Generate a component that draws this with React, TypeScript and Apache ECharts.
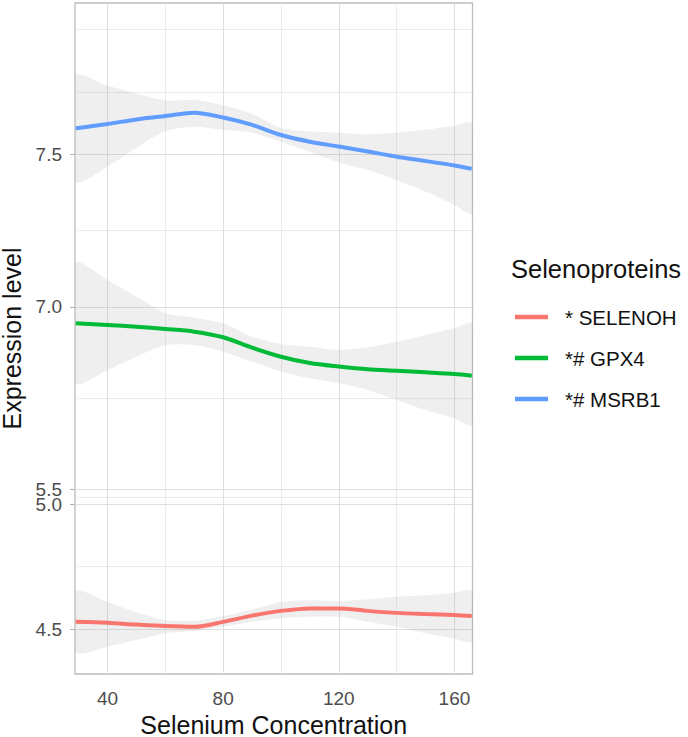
import React, { useEffect, useRef } from "react";
import * as echarts from "echarts";

// ---- data ----
const X_VALUES = [29, 40, 50, 60, 70, 80, 90, 100, 110, 120, 130, 140, 150, 160, 166];

const SELENOH_FIT = [4.529, 4.525, 4.518, 4.512, 4.509, 4.529, 4.554, 4.573, 4.583, 4.583, 4.573, 4.565, 4.56, 4.556, 4.552];
const SELENOH_UPPER = [4.652, 4.609, 4.568, 4.536, 4.533, 4.552, 4.579, 4.609, 4.616, 4.613, 4.62, 4.63, 4.636, 4.646, 4.652];
const SELENOH_LOWER = [4.407, 4.429, 4.456, 4.483, 4.492, 4.509, 4.529, 4.543, 4.549, 4.549, 4.529, 4.509, 4.483, 4.462, 4.449];

const GPX4_FIT = [6.866, 6.852, 6.838, 6.819, 6.797, 6.751, 6.665, 6.591, 6.539, 6.51, 6.487, 6.476, 6.463, 6.449, 6.435];
const GPX4_UPPER = [7.143, 7.088, 7.034, 6.948, 6.912, 6.866, 6.756, 6.696, 6.673, 6.646, 6.668, 6.714, 6.77, 6.825, 6.866];
const GPX4_LOWER = [6.372, 6.482, 6.591, 6.687, 6.687, 6.632, 6.55, 6.468, 6.413, 6.372, 6.317, 6.235, 6.152, 6.084, 6.029];

const MSRB1_FIT = [7.585, 7.599, 7.614, 7.625, 7.636, 7.62, 7.596, 7.563, 7.541, 7.525, 7.509, 7.492, 7.478, 7.463, 7.452];
const MSRB1_UPPER = [7.758, 7.724, 7.699, 7.676, 7.678, 7.66, 7.632, 7.586, 7.575, 7.57, 7.565, 7.571, 7.58, 7.593, 7.602];
const MSRB1_LOWER = [7.41, 7.459, 7.521, 7.576, 7.59, 7.58, 7.57, 7.541, 7.508, 7.473, 7.449, 7.416, 7.378, 7.334, 7.307];

const SERIES_NAMES = ["* SELENOH", "*# GPX4", "*# MSRB1"];
const LEGEND_TITLE = "Selenoproteins";
const X_TITLE = "Selenium Concentration";
const Y_TITLE = "Expression level";

const X_MAJOR = [40, 80, 120, 160];
const X_TICK_LABELS = ["40", "80", "120", "160"];
const Y_MAJOR = [4.5, 5.0, 5.5, 7.0, 7.5];
const Y_TICK_LABELS = ["4.5", "5.0", "5.5", "7.0", "7.5"];
const X_RANGE = [28.75, 166.25];
const Y_RANGE = [4.32, 7.995];

// piecewise (squished) y scale, as in the reference's broken axis
const TRANS_KNOTS_VALUE = [4.5, 5.0, 5.5, 7.0, 7.5];
const TRANS_KNOTS_POS = [0, 124.7, 139.7, 322, 474.7];

function T(v: number): number {
  const kv = TRANS_KNOTS_VALUE;
  const kp = TRANS_KNOTS_POS;
  const n = kv.length;
  if (v <= kv[0]) {
    const s = (kp[1] - kp[0]) / (kv[1] - kv[0]);
    return kp[0] + (v - kv[0]) * s;
  }
  if (v >= kv[n - 1]) {
    const s = (kp[n - 1] - kp[n - 2]) / (kv[n - 1] - kv[n - 2]);
    return kp[n - 1] + (v - kv[n - 1]) * s;
  }
  for (let i = 0; i < n - 1; i++) {
    if (v >= kv[i] && v <= kv[i + 1]) {
      return kp[i] + ((v - kv[i]) / (kv[i + 1] - kv[i])) * (kp[i + 1] - kp[i]);
    }
  }
  return 0;
}

// ggplot-like regular minor breaks (computed in transformed space)
function minorBreaks(b: number[], lim: number[]): number[] {
  const bd = b[1] - b[0];
  let ext = [...b];
  if (lim[0] < ext[0]) ext = [ext[0] - bd, ...ext];
  if (lim[1] > ext[ext.length - 1]) ext = [...ext, ext[ext.length - 1] + bd];
  const out: number[] = [];
  for (let i = 0; i < ext.length - 1; i++) {
    out.push(ext[i], (ext[i] + ext[i + 1]) / 2);
  }
  out.push(ext[ext.length - 1]);
  return out.filter(
    (v) => v > lim[0] && v < lim[1] && !b.some((m) => Math.abs(m - v) < 1e-9)
  );
}

const COLORS = ["#F8766D", "#00BA38", "#619CFF"];
const FONT = "'Liberation Sans', Arial, sans-serif";

export default function App() {
  const ref = useRef<HTMLDivElement>(null);

  useEffect(() => {
    if (!ref.current) return;
    const chart = echarts.init(ref.current, undefined, { renderer: "svg" });

    const fits = [SELENOH_FIT, GPX4_FIT, MSRB1_FIT];
    const uppers = [SELENOH_UPPER, GPX4_UPPER, MSRB1_UPPER];
    const lowers = [SELENOH_LOWER, GPX4_LOWER, MSRB1_LOWER];

    const yMajorT = Y_MAJOR.map(T);
    const yLimT = Y_RANGE.map(T);
    const yMinorT = minorBreaks(yMajorT, yLimT);
    const xMinor = minorBreaks(X_MAJOR, X_RANGE);

    const majorStyle = { color: "#dedede", width: 1, type: "solid" as const };
    const minorStyle = { color: "#ebebeb", width: 1, type: "solid" as const };

    const gridLines = [
      ...xMinor.map((v) => ({ xAxis: v, lineStyle: minorStyle })),
      ...yMinorT.map((v) => ({ yAxis: v, lineStyle: minorStyle })),
      ...X_MAJOR.map((v) => ({ xAxis: v, lineStyle: majorStyle })),
      ...yMajorT.map((v) => ({ yAxis: v, lineStyle: majorStyle })),
    ];

    const series: any[] = [
      {
        name: "grid",
        type: "line",
        data: [[X_RANGE[0], yLimT[0]]],
        symbol: "none",
        lineStyle: { opacity: 0 },
        silent: true,
        z: 1,
        markLine: {
          silent: true,
          symbol: "none",
          label: { show: false },
          animation: false,
          z: 1,
          data: gridLines,
        },
      },
    ];

    for (let k = 0; k < 3; k++) {
      series.push({
        name: "band-" + k,
        type: "custom",
        data: X_VALUES.map((x, i) => [x, T(lowers[k][i]), T(uppers[k][i])]),
        encode: { x: 0, y: [1, 2] },
        clip: true,
        silent: true,
        z: 2,
        renderItem: (params: any, api: any) => {
          if (params.dataIndex !== 0) return null;
          const n = params.dataInsideLength;
          const up: number[][] = [];
          const lo: number[][] = [];
          for (let i = 0; i < n; i++) {
            up.push(api.coord([api.value(0, i), api.value(2, i)]));
            lo.push(api.coord([api.value(0, i), api.value(1, i)]));
          }
          const pts = [...up, ...lo.reverse()];
          return {
            type: "polygon",
            shape: { points: pts, smooth: 0.25 },
            style: { fill: "rgba(153,153,153,0.16)", stroke: "none" },
            silent: true,
          };
        },
      });
    }

    for (let k = 0; k < 3; k++) {
      series.push({
        name: SERIES_NAMES[k],
        type: "line",
        data: X_VALUES.map((x, i) => [x, T(fits[k][i])]),
        symbol: "none",
        smooth: 0.3,
        color: COLORS[k],
        itemStyle: { color: COLORS[k] },
        lineStyle: { color: COLORS[k], width: 4 },
        z: 3,
      });
    }

    chart.setOption({
      animation: false,
      textStyle: { fontFamily: FONT },
      grid: {
        left: 75,
        top: 3,
        width: 397.5,
        height: 671,
        show: true,
        borderColor: "#bcbcbc",
        borderWidth: 1.3,
        backgroundColor: "transparent",
        containLabel: false,
        outerBoundsMode: "none",
      },
      title: {
        text: LEGEND_TITLE,
        left: 511,
        top: 256,
        padding: 0,
        textStyle: { fontFamily: FONT, fontSize: 25.5, fontWeight: "normal", color: "#111" },
      },
      legend: {
        data: SERIES_NAMES,
        orient: "vertical",
        left: 515,
        top: 306.5,
        padding: 0,
        itemWidth: 33,
        itemHeight: 4.5,
        itemGap: 20,
        icon: "rect",
        selectedMode: false,
        textStyle: {
          fontFamily: FONT,
          fontSize: 20.5,
          lineHeight: 20,
          color: "#111",
          padding: [0, 0, 0, 12],
        },
      },
      xAxis: {
        type: "value",
        min: X_RANGE[0],
        max: X_RANGE[1],
        name: X_TITLE,
        nameLocation: "middle",
        nameGap: 35,
        nameTextStyle: { fontFamily: FONT, fontSize: 25, lineHeight: 25, color: "#111" },
        axisLine: { show: false },
        axisTick: {
          show: true,
          length: 5,
          customValues: X_MAJOR,
          lineStyle: { color: "#b3b3b3", width: 1 },
        },
        axisLabel: {
          customValues: X_MAJOR,
          formatter: (v: number) => {
            const i = X_MAJOR.findIndex((m) => Math.abs(m - v) < 1e-6);
            return i >= 0 ? X_TICK_LABELS[i] : "";
          },
          margin: 15,
          fontFamily: FONT,
          fontSize: 19,
          color: "#4d4d4d",
        },
        splitLine: { show: false },
      },
      yAxis: {
        type: "value",
        min: yLimT[0],
        max: yLimT[1],
        name: Y_TITLE,
        nameLocation: "middle",
        nameGap: 47,
        nameRotate: 90,
        nameTextStyle: { fontFamily: FONT, fontSize: 25, lineHeight: 25, color: "#111" },
        axisLine: { show: false },
        axisTick: {
          show: true,
          length: 5,
          customValues: yMajorT,
          lineStyle: { color: "#b3b3b3", width: 1 },
        },
        axisLabel: {
          customValues: yMajorT,
          formatter: (v: number) => {
            const i = yMajorT.findIndex((m) => Math.abs(m - v) < 1e-6);
            return i >= 0 ? Y_TICK_LABELS[i] : "";
          },
          margin: 13,
          fontFamily: FONT,
          fontSize: 19,
          color: "#4d4d4d",
        },
        splitLine: { show: false },
      },
      series,
    });

    return () => {
      chart.dispose();
    };
  }, []);

  return (
    <div
      ref={ref}
      style={{ position: "fixed", left: 0, top: 0, width: 688, height: 737, background: "#fff" }}
    />
  );
}
